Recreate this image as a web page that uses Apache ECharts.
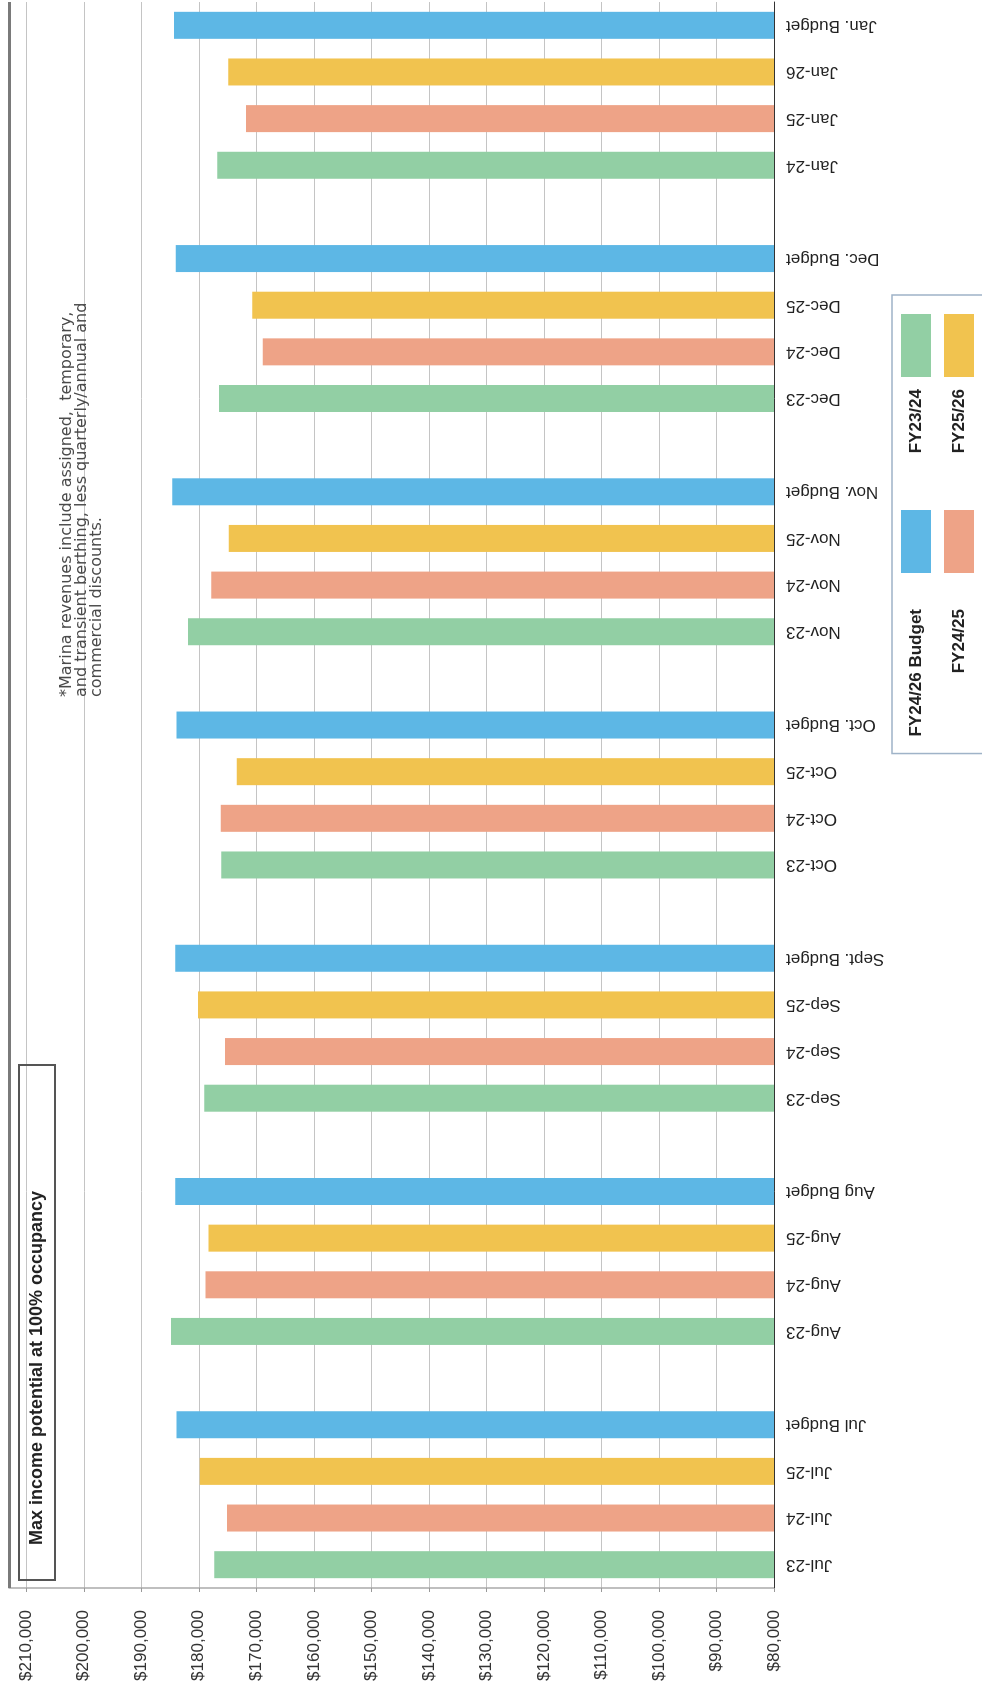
<!DOCTYPE html>
<html>
<head>
<meta charset="utf-8">
<script src="https://cdn.jsdelivr.net/npm/echarts@6/dist/echarts.min.js"></script>
<style>
  html, body { margin: 0; padding: 0; background: #fff; overflow: hidden; width: 982px; height: 1697px; }
  #chart { position: absolute; left: 0; top: 0; width: 1697px; height: 982px;
           transform-origin: 0 0; transform: translate(0, 1697px) rotate(-90deg); background: #fff; }
</style>
</head>
<body>
<div id="chart"></div>
<script>
// ---- data ----
const categories = [
  'Jul-23', 'Jul-24', 'Jul-25', 'Jul Budget', ' ',
  'Aug-23', 'Aug-24', 'Aug-25', 'Aug Budget', '  ',
  'Sep-23', 'Sep-24', 'Sep-25', 'Sept. Budget', '   ',
  'Oct-23', 'Oct-24', 'Oct-25', 'Oct. Budget', '    ',
  'Nov-23', 'Nov-24', 'Nov-25', 'Nov. Budget', '     ',
  'Dec-23', 'Dec-24', 'Dec-25', 'Dec. Budget', '      ',
  'Jan-24', 'Jan-25', 'Jan-26', 'Jan. Budget'
];
const months = ['Jul', 'Aug', 'Sep', 'Oct', 'Nov', 'Dec', 'Jan'];
const fy2324 = [177300, 184850, 179050, 176100, 181900, 176500, 176800];
const fy2425 = [175100, 178850, 175450, 176200, 177850, 168900, 171800];
const fy2526 = [179850, 178300, 180150, 173400, 174800, 170700, 174900];
const budget = [183900, 184100, 184100, 183900, 184600, 184000, 184300];
const seriesNames = ['FY23/24', 'FY24/25', 'FY25/26', 'FY24/26 Budget'];
const legendColumn1 = ['FY24/26 Budget', 'FY24/25'];
const legendColumn2 = ['FY23/24', 'FY25/26'];
const maxIncome = 213000;
const maxIncomeLabel = 'Max income potential at 100% occupancy';
const noteLines = [
  '*Marina revenues include assigned,  temporary,',
  'and transient berthing, less quarterly/annual and',
  'commercial discounts.'
];
const axisMin = 80000, axisMax = 213000, axisStep = 10000;

// ---- build per-category arrays (one bar per category slot) ----
function slotData(values, pos) {
  const arr = categories.map(() => null);
  values.forEach((v, g) => { arr[g * 5 + pos] = v; });
  return arr;
}
const seriesValues = [fy2324, fy2425, fy2526, budget];
const colors = ['#92cfa4', '#eea387', '#f1c34f', '#5db7e5'];

const series = seriesValues.map((vals, i) => ({
  name: seriesNames[i],
  type: 'bar',
  data: slotData(vals, i),
  barWidth: 27,
  barGap: '-100%',
  itemStyle: { color: colors[i] }
}));
series[3].markLine = {
  silent: true,
  symbol: 'none',
  label: { show: false },
  lineStyle: { color: '#7a7a7a', width: 3, type: 'solid' },
  data: [{ yAxis: maxIncome }]
};

function money(v) {
  return '$' + String(v).replace(/\B(?=(\d{3})+(?!\d))/g, ',');
}

const legendCommon = {
  orient: 'vertical', align: 'right', height: 200,
  icon: 'rect', itemWidth: 63, itemHeight: 30, itemGap: 13,
  selectedMode: false
};

const chart = echarts.init(document.getElementById('chart'), null, { renderer: 'canvas' });
chart.setOption({
  animation: false,
  backgroundColor: '#ffffff',
  textStyle: { fontFamily: 'Liberation Sans, Arial, sans-serif' },
  title: [
    {
      text: noteLines.join('\n'),
      left: 1000, top: 59, padding: 0,
      textStyle: { fontSize: 16, fontWeight: 'normal', color: '#4a4a4a', lineHeight: 15, fontFamily: 'DejaVu Sans' }
    },
    {
      text: maxIncomeLabel,
      left: 117, top: 19,
      padding: [9, 126, 9, 35],
      borderColor: '#555', borderWidth: 2,
      textStyle: { fontSize: 18, fontWeight: 'bold', color: '#222' }
    }
  ],
  legend: [
    Object.assign({}, legendCommon, {
      data: legendColumn1,
      right: 295, top: 892,
      padding: [9, 215, 20, 17],
      borderColor: '#9fb3c8', borderWidth: 1.5, backgroundColor: '#fff',
      textStyle: { fontSize: 17, fontWeight: 'bold', color: '#222', padding: [0, 31, 0, 0] }
    }),
    Object.assign({}, legendCommon, {
      data: legendColumn2,
      right: 314, top: 901,
      padding: 0, z: 5,
      textStyle: { fontSize: 17, fontWeight: 'bold', color: '#222', padding: [0, 7, 0, 0] }
    })
  ],
  grid: { left: 109, right: 2, top: 9, bottom: 208 },
  xAxis: {
    type: 'category',
    data: categories,
    axisLine: { lineStyle: { color: '#333', width: 1 } },
    axisTick: { length: 6, lineStyle: { color: '#333' } },
    axisLabel: { rotate: 90, interval: 0, fontSize: 17, color: '#222', margin: 12 }
  },
  yAxis: {
    type: 'value',
    min: axisMin, max: axisMax, interval: axisStep,
    axisLine: { show: true, lineStyle: { color: '#aaa', width: 1.5 } },
    axisTick: { show: true, length: 4, lineStyle: { color: '#999' } },
    splitLine: { lineStyle: { color: '#c4c4c4', width: 1 } },
    axisLabel: { formatter: money, showMaxLabel: false, fontSize: 17, color: '#333', margin: 22 }
  },
  series: series
});
</script>
</body>
</html>
